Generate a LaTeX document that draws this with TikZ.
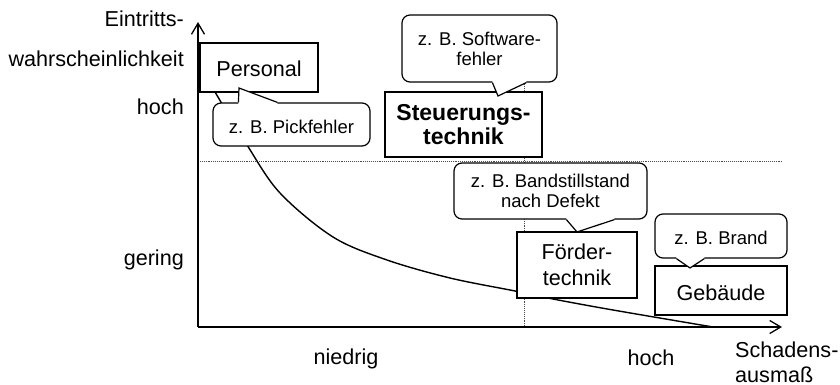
\documentclass[tikz,border=0pt]{standalone}
\usepackage{fontspec}
\setmainfont{Liberation Sans}
\usetikzlibrary{arrows.meta,calc}
\newcommand\lblfont{\fontsize{21.6}{26}\selectfont}
\newcommand\cofont{\fontsize{18.5}{20}\selectfont}
\newcommand\boldfont{\fontsize{23}{24}\selectfont\bfseries}
\newcommand\calloutptr[4]{%
  \fill[white] ($(#1)+(0,#4)$) -- (#1) -- (#2) -- (#3) -- ($(#3)+(0,#4)$) -- cycle;
  \draw[line width=1.2pt, line join=miter] (#1) -- (#2) -- (#3);
}
\tikzset{
  box/.style={draw, line width=1.2pt, fill=white, inner sep=0pt, align=center, font=\lblfont},
  bubble/.style={draw, line width=1.2pt, fill=white, rounded corners=8pt, inner sep=0pt, align=center, font=\cofont},
  axislabel/.style={inner sep=0pt, font=\lblfont, align=left},
  guide/.style={densely dotted, line width=0.9pt, black!70},
  axis/.style={line width=1.5pt, -{Straight Barb[length=11pt,width=13pt,line width=1.3pt]}},
  curveline/.style={line width=1.4pt},
}
\begin{document}
\begin{tikzpicture}[x=1pt,y=-1pt]
\useasboundingbox (0,0) rectangle (840,385);

% guide lines
\coordinate (o) at (198,327);
\coordinate (hx) at (782,161);
\coordinate (hl) at (198,161);
\coordinate (vt) at (524,25);
\coordinate (vb) at (524,327);
\draw[guide] (hl) -- (hx);
\draw[guide] (vt) -- (vb);

% curve
\draw[curveline] plot[smooth, tension=0.55] coordinates {(215,92) (247,145) (280,193) (333,237) (387,260) (450,278) (515,291) (553,299) (613,310) (713,327)};

% axes
\coordinate (ytip) at (198,22);
\coordinate (xtip) at (782,327);
\draw[axis] (o) -- (ytip);
\draw[axis] (o) -- (xtip);

% boxes
\node[box, minimum width=118pt, minimum height=49pt, text height=19pt, text depth=0pt] (personal) at (259,67.5) {Personal};
\node[box, minimum width=157pt, minimum height=65pt, font=\boldfont] (steuer) at (463.5,124.5) {Steuerungs-\\technik};
\node[box, minimum width=120pt, minimum height=66pt] (foerder) at (577,265) {Förder-\\technik};
\node[box, minimum width=132pt, minimum height=49pt, text height=19pt, text depth=0pt] (gebaeude) at (721,290.5) {Gebäude};

% callouts
\node[bubble, minimum width=157pt, minimum height=43pt, text height=17pt, text depth=0pt] (c1) at (291.5,124.5) {z. B. Pickfehler};
\coordinate (c1a) at ($(c1.north west)+(26,0)$);
\coordinate (c1t) at (239,88);
\coordinate (c1b) at ($(c1.north west)+(65,0)$);
\calloutptr{c1a}{c1t}{c1b}{3}

\node[bubble, minimum width=155pt, minimum height=67pt] (c2) at (479.5,48.5) {z. B. Software-\\fehler};
\coordinate (c2a) at ($(c2.south west)+(91,0)$);
\coordinate (c2t) at (498,96);
\coordinate (c2b) at ($(c2.south west)+(125,0)$);
\calloutptr{c2a}{c2t}{c2b}{-3}

\node[bubble, minimum width=193pt, minimum height=56pt] (c3) at (550.5,191) {z. B. Bandstillstand\\nach Defekt};
\coordinate (c3a) at ($(c3.south west)+(113,0)$);
\coordinate (c3t) at (577,232);
\coordinate (c3b) at ($(c3.south west)+(161,0)$);
\calloutptr{c3a}{c3t}{c3b}{-3}

\node[bubble, minimum width=132pt, minimum height=44pt, text height=17pt, text depth=0pt] (c4) at (721,236) {z. B. Brand};
\coordinate (c4a) at ($(c4.south west)+(22,0)$);
\coordinate (c4t) at (690,268);
\coordinate (c4b) at ($(c4.south west)+(50,0)$);
\calloutptr{c4a}{c4t}{c4b}{-3}

% axis labels
\node[axislabel, anchor=base east] (ylab1) at (184,27) {Eintritts-};
\node[axislabel, anchor=base east] (ylab2) at (184,67) {wahrscheinlichkeit};
\node[axislabel, anchor=base east] (yhigh) at (184,115) {hoch};
\node[axislabel, anchor=base east] (ylow) at (184,265) {gering};
\node[axislabel, anchor=base] (xlow) at (346,364) {niedrig};
\node[axislabel, anchor=base] (xhigh) at (651,365) {hoch};
\node[axislabel, anchor=base west] (xlab1) at (735,357) {Schadens-};
\node[axislabel, anchor=base west] (xlab2) at (735,382) {ausmaß};
\end{tikzpicture}
\end{document}
